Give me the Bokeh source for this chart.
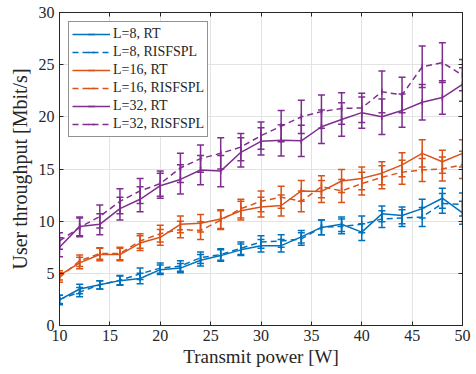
import numpy as np
from bokeh.plotting import figure
from bokeh.models import ColumnDataSource, Legend, LegendItem, LinearAxis, FixedTicker, Range1d
from bokeh.embed import file_html
from bokeh.resources import INLINE

# ---------------- data ----------------
power = [10, 12, 14, 16, 18, 20, 22, 24, 26, 28, 30, 32, 34, 36, 38, 40, 42, 44, 46, 48, 50]

l8_rt = [2.45, 3.5, 3.9, 4.3, 4.5, 5.35, 5.5, 6.25, 6.7, 7.25, 7.65, 7.65, 8.5, 9.4, 9.7, 8.95, 10.7, 10.55, 11.2, 12.2, 10.8]
l8_rt_err = [0.45, 0.45, 0.4, 0.45, 0.5, 0.45, 0.45, 0.55, 0.55, 0.55, 0.6, 0.6, 0.6, 0.7, 0.7, 0.8, 0.75, 0.8, 0.9, 0.95, 1.1]
l8_ris = [2.5, 3.2, 3.9, 4.35, 4.95, 5.5, 5.7, 6.5, 6.8, 7.4, 8.0, 8.1, 8.3, 9.4, 9.5, 9.7, 10.2, 10.3, 10.4, 11.7, 11.6]
l8_ris_err = [0.4, 0.45, 0.4, 0.45, 0.55, 0.5, 0.5, 0.55, 0.55, 0.6, 0.6, 0.6, 0.6, 0.7, 0.7, 0.8, 0.8, 0.8, 0.9, 0.95, 1.1]

l16_rt = [4.8, 6.0, 6.8, 6.8, 7.9, 8.45, 9.7, 9.8, 10.2, 11.0, 11.35, 11.5, 12.9, 12.85, 13.85, 14.1, 14.6, 15.4, 16.5, 15.7, 16.5]
l16_rt_err = [0.45, 0.55, 0.6, 0.6, 0.7, 0.75, 0.8, 0.85, 0.9, 0.9, 0.95, 1.0, 1.0, 1.05, 1.1, 1.1, 1.1, 1.15, 1.3, 1.1, 1.3]
l16_ris = [4.6, 6.2, 6.9, 6.9, 8.1, 8.8, 9.2, 9.1, 10.1, 11.2, 11.9, 12.3, 11.9, 13.3, 12.9, 13.6, 14.2, 14.7, 14.9, 15.0, 15.4]
l16_ris_err = [0.45, 0.55, 0.55, 0.6, 0.7, 0.8, 0.8, 0.85, 0.9, 0.9, 1.0, 1.05, 1.0, 1.05, 1.1, 1.1, 1.1, 1.15, 1.1, 1.15, 1.3]

l32_rt = [7.5, 9.5, 9.7, 11.2, 12.1, 13.4, 14.0, 14.9, 14.8, 16.6, 17.65, 17.75, 17.7, 19.05, 19.75, 20.4, 20.0, 20.6, 21.4, 21.85, 23.1]
l32_rt_err = [0.9, 0.9, 1.0, 1.1, 1.2, 1.2, 1.4, 1.4, 1.5, 1.4, 1.3, 1.5, 1.5, 1.6, 1.6, 1.5, 1.7, 1.6, 1.7, 1.6, 1.6]
l32_ris = [8.1, 9.4, 10.45, 11.9, 12.9, 13.6, 15.1, 16.0, 16.5, 17.1, 18.2, 19.1, 20.0, 20.5, 20.8, 20.85, 22.4, 22.1, 24.8, 25.2, 24.0]
l32_ris_err = [0.8, 0.9, 1.1, 1.2, 1.2, 1.2, 1.4, 1.3, 1.5, 1.3, 1.3, 1.5, 1.6, 1.6, 1.5, 1.4, 2.0, 1.7, 2.0, 1.9, 1.5]

labels = ["L=8, RT", "L=8, RISFSPL", "L=16, RT", "L=16, RISFSPL", "L=32, RT", "L=32, RISFSPL"]
x_ticks = [10, 15, 20, 25, 30, 35, 40, 45, 50]
y_ticks = [0, 5, 10, 15, 20, 25, 30]

BLUE, ORANGE, PURPLE = "#0072BD", "#D95319", "#7E2F8E"
series = [
    (l8_rt, l8_rt_err, BLUE, "solid"),
    (l8_ris, l8_ris_err, BLUE, "6 4"),
    (l16_rt, l16_rt_err, ORANGE, "solid"),
    (l16_ris, l16_ris_err, ORANGE, "6 4"),
    (l32_rt, l32_rt_err, PURPLE, "solid"),
    (l32_ris, l32_ris_err, PURPLE, "6 4"),
]

FONT = "Liberation Serif"
AX = "#262626"

p = figure(width=476, height=374, output_backend="svg", toolbar_location=None,
           x_range=Range1d(10, 50), y_range=Range1d(0, 30),
           min_border_left=59, min_border_right=14, min_border_top=12, min_border_bottom=49)
p.outline_line_color = AX
p.background_fill_color = "white"

for ax, ticks in ((p.xaxis[0], x_ticks), (p.yaxis[0], y_ticks)):
    ax.ticker = FixedTicker(ticks=ticks)
    ax.major_tick_in = 4
    ax.major_tick_out = 0
    ax.minor_tick_line_color = None
    ax.axis_line_color = AX
    ax.major_tick_line_color = AX
    ax.major_label_text_color = AX
    ax.major_label_text_font = FONT
    ax.major_label_text_font_size = "16px"
    ax.axis_label_text_font = FONT
    ax.axis_label_text_font_style = "normal"
    ax.axis_label_text_color = AX
p.xaxis.axis_label = "Transmit power [W]"
p.yaxis.axis_label = "User throughput [Mbit/s]"
p.xaxis.axis_label_text_font_size = "19px"
p.yaxis.axis_label_text_font_size = "20px"
p.xaxis.major_label_standoff = 4
p.xaxis.axis_label_standoff = 2
p.yaxis.major_label_standoff = 5
p.yaxis.axis_label_standoff = 5

for loc, ticks in (("above", x_ticks), ("right", y_ticks)):
    a = LinearAxis(ticker=FixedTicker(ticks=ticks))
    a.major_tick_in = 4
    a.major_tick_out = 0
    a.minor_tick_line_color = None
    a.axis_line_color = AX
    a.major_tick_line_color = AX
    a.major_label_overrides = {t: "" for t in ticks}
    a.major_label_text_font_size = "8px"
    a.major_label_standoff = 0
    p.add_layout(a, loc)

p.xgrid.ticker = FixedTicker(ticks=x_ticks)
p.ygrid.ticker = FixedTicker(ticks=y_ticks)
p.grid.grid_line_color = "#e3e3e3"
p.grid.grid_line_width = 1

items = []
for (vals, err, col, dash), lab in zip(series, labels):
    lo = [v - e for v, e in zip(vals, err)]
    hi = [v + e for v, e in zip(vals, err)]
    src = ColumnDataSource(dict(x=power, y=vals, lo=lo, hi=hi))
    ln = p.line("x", "y", source=src, line_color=col, line_width=1.5, line_dash=dash)
    p.segment(x0="x", y0="lo", x1="x", y1="hi", source=src, line_color=col, line_width=1.5)
    p.scatter("x", "lo", source=src, marker="dash", size=7, line_color=col, line_width=1.5)
    p.scatter("x", "hi", source=src, marker="dash", size=7, line_color=col, line_width=1.5)
    # vertical tick at each point (hidden by the bar), used as error-bar sample in legend
    tick = p.scatter("x", "y", source=src, marker="dash", angle=np.pi / 2, size=6,
                     line_color=col, line_width=1.5)
    items.append(LegendItem(label=lab, renderers=[ln, tick]))

legend = Legend(items=items, location="top_left")
legend.margin = 9
legend.padding = 3
legend.spacing = 0
legend.glyph_width = 38
legend.glyph_height = 18
legend.label_height = 18
legend.label_standoff = 3
legend.label_text_font = FONT
legend.label_text_font_size = "14px"
legend.label_text_color = AX
legend.border_line_color = AX
legend.border_line_width = 1
legend.background_fill_alpha = 1.0
p.add_layout(legend)

open("out.html", "w").write(file_html(p, INLINE))
